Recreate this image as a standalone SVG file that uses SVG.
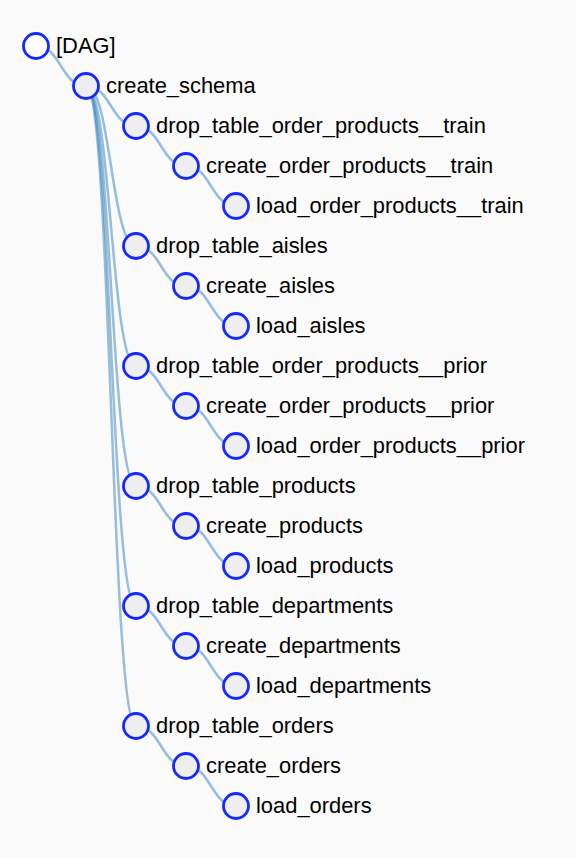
<svg xmlns="http://www.w3.org/2000/svg" width="576" height="858" viewBox="0 0 576 858">
<style>
.link{fill:none;stroke:#3182bd;stroke-opacity:0.5;stroke-width:2.5}
.node circle{fill:#eeeeee;stroke:#1428ff;stroke-width:2.8}
.node.root circle{fill:#ffffff}
.node text{font-family:"Liberation Sans",Arial,Helvetica,sans-serif;font-size:21.9px;fill:#000}
</style>
<rect x="0" y="0" width="576" height="858" fill="#fafafa"/>
<g id="links">
<path class="link" d="M36,46C61,46 61,86 86,86"/>
<path class="link" d="M86,86C111,86 111,126 136,126"/>
<path class="link" d="M86,86C111,86 111,246 136,246"/>
<path class="link" d="M86,86C111,86 111,366 136,366"/>
<path class="link" d="M86,86C111,86 111,486 136,486"/>
<path class="link" d="M86,86C111,86 111,606 136,606"/>
<path class="link" d="M86,86C111,86 111,726 136,726"/>
<path class="link" d="M136,126C161,126 161,166 186,166"/>
<path class="link" d="M186,166C211,166 211,206 236,206"/>
<path class="link" d="M136,246C161,246 161,286 186,286"/>
<path class="link" d="M186,286C211,286 211,326 236,326"/>
<path class="link" d="M136,366C161,366 161,406 186,406"/>
<path class="link" d="M186,406C211,406 211,446 236,446"/>
<path class="link" d="M136,486C161,486 161,526 186,526"/>
<path class="link" d="M186,526C211,526 211,566 236,566"/>
<path class="link" d="M136,606C161,606 161,646 186,646"/>
<path class="link" d="M186,646C211,646 211,686 236,686"/>
<path class="link" d="M136,726C161,726 161,766 186,766"/>
<path class="link" d="M186,766C211,766 211,806 236,806"/>
</g>
<g id="n_dag" class="node root" transform="translate(36,46)"><circle r="12.5"/><text x="20" y="7">[DAG]</text></g>
<g id="n_create_schema" class="node" transform="translate(86,86)"><circle r="12.5"/><text x="20" y="7">create_schema</text></g>
<g id="n_drop_table_order_products__train" class="node" transform="translate(136,126)"><circle r="12.5"/><text x="20" y="7">drop_table_order_products__train</text></g>
<g id="n_create_order_products__train" class="node" transform="translate(186,166)"><circle r="12.5"/><text x="20" y="7">create_order_products__train</text></g>
<g id="n_load_order_products__train" class="node" transform="translate(236,206)"><circle r="12.5"/><text x="20" y="7">load_order_products__train</text></g>
<g id="n_drop_table_aisles" class="node" transform="translate(136,246)"><circle r="12.5"/><text x="20" y="7">drop_table_aisles</text></g>
<g id="n_create_aisles" class="node" transform="translate(186,286)"><circle r="12.5"/><text x="20" y="7">create_aisles</text></g>
<g id="n_load_aisles" class="node" transform="translate(236,326)"><circle r="12.5"/><text x="20" y="7">load_aisles</text></g>
<g id="n_drop_table_order_products__prior" class="node" transform="translate(136,366)"><circle r="12.5"/><text x="20" y="7">drop_table_order_products__prior</text></g>
<g id="n_create_order_products__prior" class="node" transform="translate(186,406)"><circle r="12.5"/><text x="20" y="7">create_order_products__prior</text></g>
<g id="n_load_order_products__prior" class="node" transform="translate(236,446)"><circle r="12.5"/><text x="20" y="7">load_order_products__prior</text></g>
<g id="n_drop_table_products" class="node" transform="translate(136,486)"><circle r="12.5"/><text x="20" y="7">drop_table_products</text></g>
<g id="n_create_products" class="node" transform="translate(186,526)"><circle r="12.5"/><text x="20" y="7">create_products</text></g>
<g id="n_load_products" class="node" transform="translate(236,566)"><circle r="12.5"/><text x="20" y="7">load_products</text></g>
<g id="n_drop_table_departments" class="node" transform="translate(136,606)"><circle r="12.5"/><text x="20" y="7">drop_table_departments</text></g>
<g id="n_create_departments" class="node" transform="translate(186,646)"><circle r="12.5"/><text x="20" y="7">create_departments</text></g>
<g id="n_load_departments" class="node" transform="translate(236,686)"><circle r="12.5"/><text x="20" y="7">load_departments</text></g>
<g id="n_drop_table_orders" class="node" transform="translate(136,726)"><circle r="12.5"/><text x="20" y="7">drop_table_orders</text></g>
<g id="n_create_orders" class="node" transform="translate(186,766)"><circle r="12.5"/><text x="20" y="7">create_orders</text></g>
<g id="n_load_orders" class="node" transform="translate(236,806)"><circle r="12.5"/><text x="20" y="7">load_orders</text></g>
</svg>
